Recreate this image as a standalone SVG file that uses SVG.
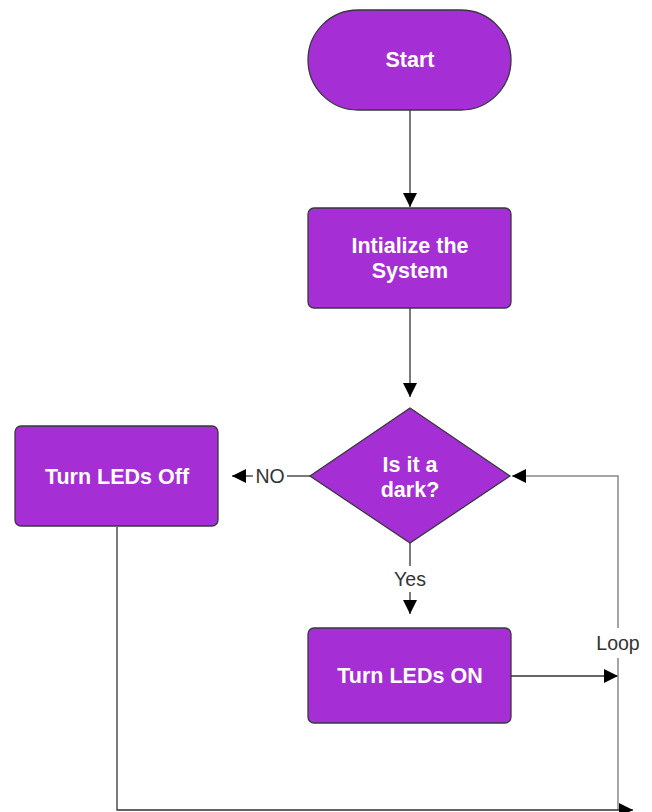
<svg xmlns="http://www.w3.org/2000/svg" width="652" height="812" viewBox="0 0 652 812">
<defs>
<style>
.node{fill:#A52ED5;stroke:#36393D;stroke-width:1.3}
.nt{fill:#fff;font-family:"Liberation Sans",Arial,sans-serif;font-weight:bold;font-size:21.5px;text-anchor:middle}
.edge{fill:none;stroke:#333;stroke-width:1.3}
.loop{fill:none;stroke:#888;stroke-width:1.5}
.lbl{fill:#333;font-family:"Liberation Sans",Arial,sans-serif;font-size:19.5px;text-anchor:middle}
</style>
<marker id="ah" viewBox="0 0 10 10" refX="10" refY="5" markerWidth="14" markerHeight="14" markerUnits="userSpaceOnUse" orient="auto">
<path d="M0,0 L10,5 L0,10 Z" fill="#000"/>
</marker>
</defs>
<rect width="652" height="812" fill="#fff"/>
<g id="connectors">
<path class="edge" d="M410,110 V207" marker-end="url(#ah)"/>
<path class="edge" d="M410,308 V397" marker-end="url(#ah)"/>
<path class="edge" d="M310,476 H287"/>
<path class="edge" d="M253,476 H232" marker-end="url(#ah)"/>
<text class="lbl" x="270" y="483">NO</text>
<path class="edge" d="M410,543 V566"/>
<path class="edge" d="M410,592 V614" marker-end="url(#ah)"/>
<text class="lbl" x="410" y="586">Yes</text>
<path class="edge" d="M511,676 H618" marker-end="url(#ah)"/>
<path class="loop" d="M618,810 V658"/>
<path class="loop" d="M618,628 V476 H512" marker-end="url(#ah)"/>
<text class="lbl" x="618" y="650">Loop</text>
<path class="edge" d="M117,527 V810 H633" marker-end="url(#ah)"/>
</g>
<g id="start">
<rect class="node" x="308" y="10" width="203" height="100" rx="50" ry="50"/>
<text class="nt" x="410" y="67">Start</text>
</g>
<g id="init">
<rect class="node" x="308" y="208" width="203" height="100" rx="6" ry="6"/>
<text class="nt" x="410" y="253">Intialize the</text>
<text class="nt" x="410" y="278">System</text>
</g>
<g id="decision">
<polygon class="node" points="410,408 510,476 410,543 310,476"/>
<text class="nt" x="410" y="472">Is it a</text>
<text class="nt" x="410" y="497">dark?</text>
</g>
<g id="ledsoff">
<rect class="node" x="15" y="426" width="203" height="100" rx="6" ry="6"/>
<text class="nt" x="117" y="484">Turn LEDs Off</text>
</g>
<g id="ledson">
<rect class="node" x="308" y="628" width="203" height="95" rx="6" ry="6"/>
<text class="nt" x="410" y="683">Turn LEDs ON</text>
</g>
</svg>
